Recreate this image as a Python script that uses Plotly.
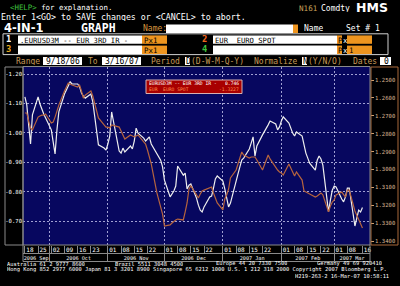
import pandas as pd
import plotly.graph_objects as go

W, H = 400, 286
MONO = "DejaVu Sans Mono, Liberation Mono, monospace"

# ---------------- data ----------------
dates = pd.bdate_range("2006-09-18", "2007-03-16")

eurusd3m = [
    1.122, 1.095, 1.027, 0.962, 1.061,
    1.122, 1.098, 1.078, 1.064, 1.050,
    1.010, 0.969, 0.928, 1.010, 1.071,
    1.132, 1.146, 1.163, 1.173, 1.166,
    1.166, 1.156, 1.135, 1.125, 1.118,
    1.132, 1.105, 1.057, 1.003, 0.959,
    0.948, 0.941, 0.962, 0.989, 1.071,
    0.969, 0.938, 0.931, 0.948, 0.935,
    0.955, 0.945, 0.972, 1.016, 0.999,
    0.982, 0.972, 0.979, 0.986, 0.962,
    0.931, 0.921, 0.907, 0.884, 0.839,
    0.782, 0.792, 0.802, 0.819, 0.887,
    0.856, 0.863, 0.809, 0.822, 0.826,
    0.778, 0.754, 0.737, 0.731, 0.748,
    0.782, 0.785, 0.812, 0.843, 0.853,
    0.836, 0.809, 0.775, 0.748, 0.761,
    0.829, 0.860, 0.884, 0.907, 0.914,
    0.945, 0.965, 0.986, 0.921, 0.955,
    0.993, 1.003, 1.016, 1.027, 1.040,
    1.030, 1.010, 1.020, 1.040, 1.054,
    1.033, 1.013, 0.999, 0.989, 1.003,
    0.989, 0.959, 0.931, 0.914, 0.897,
    0.873, 0.907, 0.921, 0.911, 0.890,
    0.731, 0.771, 0.805, 0.819, 0.816,
    0.775, 0.765, 0.782, 0.812, 0.812,
    0.683, 0.710, 0.737, 0.731, 0.746,
]

eur_spot = [
    1.2684, 1.2684, 1.2729, 1.2768, 1.2779,
    1.2707, 1.2701, 1.2696, 1.2696, 1.2690,
    1.2740, 1.2735, 1.2707, 1.2668, 1.2640,
    1.2561, 1.2539, 1.2517, 1.2522, 1.2528,
    1.2539, 1.2528, 1.2561, 1.2601, 1.2584,
    1.2561, 1.2589, 1.2628, 1.2679, 1.2712,
    1.2751, 1.2763, 1.2763, 1.2768, 1.2751,
    1.2757, 1.2763, 1.2785, 1.2813, 1.2830,
    1.2807, 1.2813, 1.2818, 1.2813, 1.2807,
    1.2846, 1.2858, 1.2891, 1.2936, 1.2969,
    1.3131, 1.3176, 1.3204, 1.3249, 1.3316,
    1.3310, 1.3299, 1.3288, 1.3282, 1.3277,
    1.3282, 1.3237, 1.3187, 1.3109, 1.3092,
    1.3142, 1.3159, 1.3137, 1.3120, 1.3115,
    1.3103, 1.3098, 1.3131, 1.3159, 1.3187,
    1.3226, 1.3165, 1.3142, 1.3109, 1.3047,
    1.3003, 1.2969, 1.2936, 1.2902, 1.2919,
    1.2936, 1.2930, 1.2930, 1.2930, 1.2947,
    1.3003, 1.2975, 1.2941, 1.2919, 1.2941,
    1.2992, 1.3003, 1.3014, 1.3020, 1.3031,
    1.2969, 1.2992, 1.3014, 1.3036, 1.3014,
    1.3059, 1.3120, 1.3126, 1.3131, 1.3137,
    1.3154, 1.3148, 1.3137, 1.3131, 1.3142,
    1.3237, 1.3204, 1.3182, 1.3170, 1.3142,
    1.3126, 1.3142, 1.3154, 1.3115, 1.3115,
    1.3232, 1.3254, 1.3277, 1.3304, 1.3327,
]

series_names = ["EURUSD3M -- EUR 3RD IR -", "EUR\u00a0 EURO SPOT"]
legend_last = ["0.746", "-1.3227"]

left_ticks = [0.70, 0.80, 0.90, 1.00, 1.10, 1.20]
right_ticks = [1.25, 1.26, 1.27, 1.28, 1.29, 1.30, 1.31, 1.32, 1.33, 1.34]

week_ticks = ["2006-09-18", "2006-09-25", "2006-10-02", "2006-10-09", "2006-10-16",
              "2006-10-23", "2006-11-01", "2006-11-08", "2006-11-15", "2006-11-22",
              "2006-12-01", "2006-12-08", "2006-12-15", "2006-12-22", "2007-01-01",
              "2007-01-08", "2007-01-15", "2007-01-22", "2007-02-01", "2007-02-08",
              "2007-02-15", "2007-02-22", "2007-03-01", "2007-03-08", "2007-03-16"]
month_starts = ["2006-10-01", "2006-11-01", "2006-12-01", "2007-01-01",
                "2007-02-01", "2007-03-01"]
month_labels = ["2006 Sep", "2006 Oct", "2006 Nov", "2006 Dec",
                "2007 Jan", "2007 Feb", "2007 Mar"]
x_range = ["2006-09-17", "2007-03-20"]

# ---------------- helpers ----------------
bounds = [pd.Timestamp(x_range[0])] + [pd.Timestamp(m) for m in month_starts] + [pd.Timestamp(x_range[1])]
month_centers = [bounds[i] + (bounds[i + 1] - bounds[i]) / 2 for i in range(len(bounds) - 1)]

shapes = []
annotations = []


def rect(x0, y0, x1, y1, fill=None, line=None, lw=1):
    shapes.append(dict(type="rect", xref="paper", yref="paper", layer="above",
                       x0=x0 / W, x1=x1 / W, y0=1 - y1 / H, y1=1 - y0 / H,
                       fillcolor=fill or "rgba(0,0,0,0)",
                       line=dict(color=line or "rgba(0,0,0,0)", width=lw if line else 0)))


def hline(x0, x1, y, color, lw=1):
    shapes.append(dict(type="line", xref="paper", yref="paper", layer="above",
                       x0=x0 / W, x1=x1 / W, y0=1 - y / H, y1=1 - y / H,
                       line=dict(color=color, width=lw)))


def txt(x, y, s, color="white", size=8, anchor="left", family=MONO, height=None):
    a = dict(x=x / W, y=1 - y / H, xref="paper", yref="paper",
             text=s, showarrow=False, xanchor=anchor, yanchor="middle",
             font=dict(family=family, size=size, color=color), borderpad=0)
    if height:
        a["height"] = height
    annotations.append(a)


ORANGE = "#ee951f"
TAN = "#c89a5a"
GRAY = "#8a8a8a"

# ---------------- header ----------------
txt(9, 7, "<span style='color:#3fc33f'>&lt;HELP&gt;</span> for explanation.", "white", 7.4, height=8)
txt(298, 7.5, "N161", "#c9a15a", 7.6, height=8)
txt(320, 7.5, "Comdty", "white", 8, height=8)
txt(355, 7.5, "<b>HMS</b>", "white", 12.5, family="DejaVu Sans, sans-serif", height=11)
txt(0, 16.5, "Enter 1&lt;GO&gt; to SAVE changes or &lt;CANCEL&gt; to abort.", "white", 8.3, height=8)

txt(3, 27.9, "<b>4-IN-1</b>", "white", 11.5, family="DejaVu Sans, sans-serif", height=10)
txt(80, 27.9, "<b>GRAPH</b>", "white", 11.5, family="DejaVu Sans Mono, monospace", height=10)
txt(142, 28.4, "Name:", "#d8963e", 8, height=8)
rect(166, 24.5, 293, 33, fill="white")
rect(293, 24.5, 298, 33, fill=ORANGE)
txt(303, 28.4, "Name", "white", 8, height=8)
txt(345, 28.4, "Set # 1", "white", 8, height=8)

# rows 1-4
rect(3, 33.8, 388, 54.6, line="#d0d0d0", lw=1)
row_y = [39.6, 49.8]
txt(5, row_y[0], "<b>1</b>", "white", 8.8, height=8.5)
txt(5, row_y[1], "<b>3</b>", "#e8a820", 8.8, height=8.5)
txt(201, row_y[0], "<b>2</b>", "#f0641e", 8.8, height=8.5)
txt(201, row_y[1], "<b>4</b>", "#3fc33f", 8.8, height=8.5)
for i, yc in enumerate(row_y):
    rect(18, yc - 4.2, 142, yc + 4.2, fill="white")
    rect(142, yc - 4.2, 167, yc + 4.2, fill=ORANGE)
    txt(143, yc, "Px1", "black", 7.4, height=8)
    rect(213, yc - 4.2, 337, yc + 4.2, fill="white")
    rect(337, yc - 4.2, 342, yc + 4.2, fill=ORANGE)
    txt(337, yc, "P", "black", 7.4, height=8)
    txt(342, yc, "x", "white", 7.4, height=8)
    rect(347, yc - 4.2, 372, yc + 4.2, fill=ORANGE)
txt(19, row_y[0], "." + series_names[0].replace(" ", "\u00a0"), "black", 7.2, height=8)
txt(214, row_y[0], series_names[1], "black", 7.2, height=8)
txt(348, row_y[1], "1", "black", 7.4, height=8)

# range row
ry = 61
txt(15, ry, "Range", TAN, 8, height=8)
rect(43, ry - 4, 82, ry + 4, fill="white")
txt(45, ry, "9/18/06", "black", 8, height=8)
txt(87, ry, "To", TAN, 8, height=8)
rect(102, ry - 4, 141, ry + 4, fill="white")
txt(104, ry, "3/16/07", "black", 8, height=8)
txt(150, ry, "Period", TAN, 8, height=8)
rect(185, ry - 4, 190, ry + 4, fill="white")
txt(185, ry, "D", "black", 8, height=8)
txt(190, ry, "(D-W-M-Q-Y)", TAN, 8, height=8)
txt(253, ry, "Normalize", TAN, 8, height=8)
rect(302, ry - 4, 307, ry + 4, fill="white")
txt(302, ry, "N", "black", 8, height=8)
txt(307, ry, "(Y/N/O)", TAN, 8, height=8)
txt(352, ry, "Dates", TAN, 8, height=8)
rect(380, ry - 4, 391, ry + 4, fill="white")
txt(383, ry, "0", "black", 8, height=8)

# ---------------- frames ----------------
rect(5, 67, 23, 245, line=GRAY)
rect(371, 67, 398, 245, line="#a8683a")
rect(23, 66.5, 370, 261.5, line=GRAY)
hline(23, 370, 245, GRAY)
hline(23, 370, 253.5, GRAY)

# legend box
rect(146, 80, 242, 93.5, fill="#a80000", line="#d8b0b0")
txt(148, 83.8, series_names[0].replace(" ", "\u00a0"), "white", 4.7, height=5)
txt(240, 83.8, legend_last[0], "white", 4.7, anchor="right", height=5)
txt(148, 89.6, series_names[1], "#ff8a4a", 4.7, height=5)
txt(240, 89.6, legend_last[1], "#ff8a4a", 4.7, anchor="right", height=5)

# ---------------- footer ----------------
FS = 5.4
txt(6, 264, "Australia 61 2 9777 8600", "white", FS, height=5.5)
txt(114, 264, "Brazil 5511 3048 4500", "white", FS, height=5.5)
txt(215, 264, "Europe 44 20 7330 7500", "white", FS, height=5.5)
txt(316, 264, "Germany 49 69 920410", "white", FS, height=5.5)
txt(6, 270, "Hong Kong 852 2977 6000 Japan 81 3 3201 8900 Singapore 65 6212 1000 "
            "U.S. 1 212 318 2000 Copyright 2007 Bloomberg L.P.", "white", FS, height=5.5)
txt(294, 275.5, "H219-263-2 16-Mar-07 10:58:11", "white", FS, height=5.5)

# ---------------- figure ----------------
GRID = "#a0a0d2"
fig = go.Figure()
fig.add_trace(go.Scatter(x=dates, y=eur_spot, yaxis="y2", mode="lines",
                         line=dict(color="#b6643e", width=1.2), name=series_names[1],
                         showlegend=False, hoverinfo="skip"))
fig.add_trace(go.Scatter(x=dates, y=eurusd3m, mode="lines",
                         line=dict(color="#eeeeee", width=1.2), name=series_names[0],
                         showlegend=False, hoverinfo="skip"))
fig.add_trace(go.Scatter(x=[], y=[], xaxis="x2", showlegend=False, hoverinfo="skip"))
fig.add_trace(go.Scatter(x=[], y=[], xaxis="x3", showlegend=False, hoverinfo="skip"))

fig.update_layout(
    width=W, height=H, margin=dict(l=0, r=0, t=0, b=0),
    paper_bgcolor="black", plot_bgcolor="#07075f",
    showlegend=False,
    xaxis=dict(domain=[23 / W, 370 / W], range=x_range, type="date", anchor="y",
               tickmode="array", tickvals=month_starts, showticklabels=False,
               ticks="outside", ticklen=16, tickcolor=GRAY, tickwidth=1,
               showgrid=True, gridcolor=GRID, griddash="2px,2px", gridwidth=1,
               zeroline=False, showline=False),
    xaxis2=dict(overlaying="x", anchor="free", position=1 - 245 / H, side="bottom",
                range=x_range, type="date", tickmode="array", tickvals=week_ticks,
                ticktext=[d[-2:] for d in week_ticks], ticks="outside", ticklen=8,
                tickcolor=GRAY, tickwidth=1, showgrid=False, zeroline=False, showline=False,
                tickfont=dict(family=MONO, size=6, color="white"),
                ticklabelshift=5, ticklabelstandoff=-9),
    xaxis3=dict(overlaying="x", anchor="free", position=1 - 253.5 / H, side="bottom",
                range=x_range, type="date", tickmode="array", tickvals=month_centers,
                ticktext=month_labels, ticks="", showgrid=False, zeroline=False,
                showline=False, tickfont=dict(family=MONO, size=5.2, color="white")),
    yaxis=dict(domain=[1 - 245 / H, 1 - 67 / H], range=[0.6184, 1.2238], anchor="x",
               tickmode="array", tickvals=left_ticks,
               ticktext=[f"-{v:.2f}" for v in left_ticks], ticks="",
               tickfont=dict(family=MONO, size=5.6, color="white"),
               showgrid=True, gridcolor=GRID, griddash="2px,2px", gridwidth=1,
               zeroline=False, showline=False),
    yaxis2=dict(overlaying="y", side="right", anchor="x", range=[1.3422, 1.2427],
                tickmode="array", tickvals=right_ticks,
                ticktext=[f"{v:.4f}" for v in right_ticks], ticks="outside", ticklen=3,
                tickcolor="#d0a070", tickfont=dict(family=MONO, size=5.6, color="#dcb894"),
                showgrid=False, zeroline=False, showline=False),
    shapes=shapes, annotations=annotations,
)

fig.write_html("out.html")
